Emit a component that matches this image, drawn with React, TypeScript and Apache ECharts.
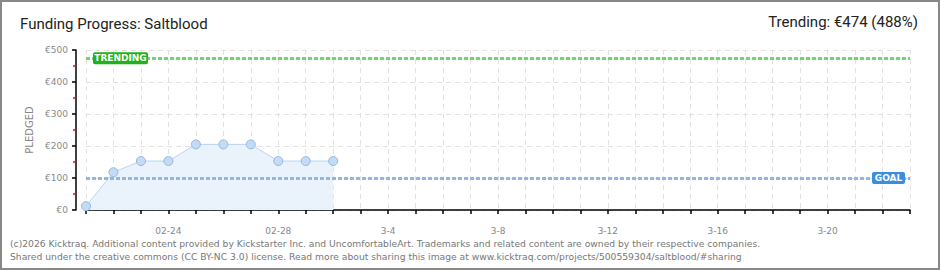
import React, { useEffect, useRef } from "react";
import * as echarts from "echarts";

const categories = [
  "02-21", "02-22", "02-23", "02-24", "02-25", "02-26", "02-27", "02-28",
  "3-1", "3-2", "3-3", "3-4", "3-5", "3-6", "3-7", "3-8", "3-9", "3-10",
  "3-11", "3-12", "3-13", "3-14", "3-15", "3-16", "3-17", "3-18", "3-19",
  "3-20", "3-21", "3-22", "3-23",
];
const pledged = [12, 118, 153, 153, 205, 205, 205, 153, 153, 153];
const goal = 100;
const trending = 474;
const trendingText = "Trending: €474 (488%)";
const titleText = "Funding Progress: Saltblood";
const footer1 =
  "(c)2026 Kicktraq. Additional content provided by Kickstarter Inc. and UncomfortableArt. Trademarks and related content are owned by their respective companies.";
const footer2 =
  "Shared under the creative commons (CC BY-NC 3.0) license. Read more about sharing this image at www.kicktraq.com/projects/500559304/saltblood/#sharing";

const pixelFont = "DejaVu Sans";

export default function App() {
  const ref = useRef<HTMLDivElement>(null);
  useEffect(() => {
    document.body.style.margin = "0";
    const chart = echarts.init(ref.current!, null, { renderer: "svg" });
    const option: any = {
      animation: false,
      backgroundColor: "#fff",
      grid: { left: 86, right: 30, top: 50, bottom: 60 },
      xAxis: {
        type: "category",
        data: categories,
        boundaryGap: false,
        offset: 10,
        axisLine: { lineStyle: { color: "#000", width: 1.5 } },
        axisTick: { interval: 0, length: 4, lineStyle: { color: "#000", width: 1.5 } },
        axisLabel: {
          interval: (i: number) => i >= 3 && (i - 3) % 4 === 0,
          color: "#888",
          fontFamily: pixelFont,
          fontSize: 9,
          margin: 6,
        },
        splitLine: {
          show: true,
          interval: 0,
          lineStyle: { color: "#e2e2e2", type: [5, 4] },
        },
      },
      yAxis: {
        type: "value",
        min: 0,
        max: 500,
        interval: 100,
        offset: 10,
        name: "PLEDGED",
        nameLocation: "middle",
        nameGap: 40,
        nameTextStyle: { color: "#888", fontFamily: pixelFont, fontSize: 10 },
        axisLine: { show: true, lineStyle: { color: "#000", width: 1.5 } },
        axisTick: { show: true, length: 4, lineStyle: { color: "#000", width: 1.5 } },
        minorTick: { show: true, splitNumber: 2, length: 3, lineStyle: { color: "#f00", width: 1.5 } },
        axisLabel: {
          formatter: (v: number) => "€" + v,
          color: "#888",
          fontFamily: pixelFont,
          fontSize: 9,
          margin: 8,
        },
        splitLine: { lineStyle: { color: "#e2e2e2", type: [5, 4] } },
      },
      series: [
        {
          type: "line",
          data: pledged,
          symbol: "circle",
          symbolSize: 9,
          itemStyle: { color: "#c3dbf5", borderColor: "#93b8e2", borderWidth: 1 },
          lineStyle: { color: "#b8d4f2", width: 1 },
          areaStyle: { color: "#eaf3fc", opacity: 1 },
          z: 3,
          markLine: {
            silent: true,
            symbol: "none",
            label: { show: false },
            data: [
              { yAxis: trending, lineStyle: { color: "#72d472", width: 3, type: [4, 2] } },
              { yAxis: goal, lineStyle: { color: "#93b8e0", width: 3, type: [4, 2] } },
            ],
          },
        },
      ],
    };
    chart.setOption(option);
    const pTrend = chart.convertToPixel({ gridIndex: 0 }, [0, trending]) as number[];
    const pGoal = chart.convertToPixel({ gridIndex: 0 }, [categories.length - 1, goal]) as number[];
    chart.setOption({
      graphic: [
        {
          type: "rect",
          shape: { x: 1, y: 1, width: 938, height: 268 },
          style: { fill: "none", stroke: "#888", lineWidth: 2 },
          silent: true,
        },
        {
          type: "text",
          x: 20,
          y: 24,
          style: {
            text: titleText,
            fill: "#222",
            font: "15px Roboto",
            textVerticalAlign: "middle",
          },
        },
        {
          type: "text",
          x: 918,
          y: 22,
          style: {
            text: trendingText,
            fill: "#222",
            font: "15px Roboto",
            textAlign: "right",
            textVerticalAlign: "middle",
          },
        },
        {
          type: "text",
          x: 10,
          y: 243,
          style: { text: footer1, fill: "#777", font: "9.2px 'DejaVu Sans'", textVerticalAlign: "middle" },
        },
        {
          type: "text",
          x: 10,
          y: 256,
          style: { text: footer2, fill: "#777", font: "9.2px 'DejaVu Sans'", textVerticalAlign: "middle" },
        },
        {
          type: "rect",
          shape: { x: pTrend[0] + 7, y: pTrend[1] - 6, width: 55, height: 12, r: 2 },
          style: { fill: "#1db31d" },
          z: 10,
        },
        {
          type: "text",
          x: pTrend[0] + 7 + 27.5,
          y: pTrend[1],
          style: {
            text: "TRENDING",
            fill: "#fff",
            font: "bold 9px 'DejaVu Sans'",
            textAlign: "center",
            textVerticalAlign: "middle",
          },
          z: 11,
        },
        {
          type: "rect",
          shape: { x: pGoal[0] - 38, y: pGoal[1] - 6, width: 33, height: 12, r: 2 },
          style: { fill: "#3a8ee0" },
          z: 10,
        },
        {
          type: "text",
          x: pGoal[0] - 38 + 16.5,
          y: pGoal[1],
          style: {
            text: "GOAL",
            fill: "#fff",
            font: "bold 9px 'DejaVu Sans'",
            textAlign: "center",
            textVerticalAlign: "middle",
          },
          z: 11,
        },
      ],
    });
    return () => chart.dispose();
  }, []);
  return <div ref={ref} style={{ width: 940, height: 270 }} />;
}
